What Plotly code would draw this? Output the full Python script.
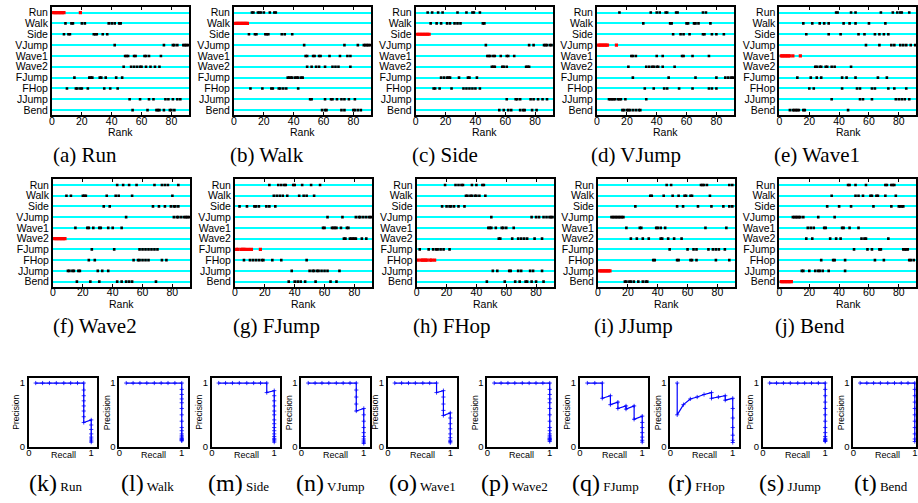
import plotly.graph_objects as go

W, H = 918, 503
ACTIONS = ["Run", "Walk", "Side", "VJump", "Wave1", "Wave2", "FJump", "FHop", "JJump", "Bend"]

# ranks of the retrieved videos, per row (same order as ACTIONS), for each query class
RANK_RUN = [
    [1, 2, 3, 4, 5, 6, 7, 8, 19],
    [9, 13, 14, 20, 22, 38, 40, 42, 45, 46],
    [8, 11, 12, 28, 29, 30, 34, 37],
    [42, 75, 81, 82, 84, 88, 89, 90, 91],
    [49, 50, 51, 55, 56, 62, 63, 65, 73],
    [48, 53, 55, 57, 59, 60, 63, 66, 69, 72],
    [15, 25, 26, 27, 32, 33, 36, 43, 47],
    [10, 16, 17, 19, 20, 24, 35, 39, 44],
    [52, 59, 65, 68, 76, 78, 81, 84, 86],
    [54, 64, 70, 71, 72, 75, 79, 80, 82],
]
RANK_WALK = [
    [12, 13, 16, 17, 18, 20, 24, 27, 28],
    [1, 2, 3, 4, 5, 6, 7, 8, 9],
    [10, 14, 15, 21, 22, 23, 32, 34, 39],
    [47, 74, 83, 87, 88, 89, 90, 91],
    [48, 49, 53, 54, 57, 58, 64, 71, 76, 78],
    [49, 52, 55, 57, 61, 66, 68, 70, 78],
    [36, 37, 38, 39, 41, 42, 43, 45, 46],
    [11, 19, 25, 26, 30, 31, 33, 35, 43],
    [51, 52, 61, 65, 66, 69, 72, 74, 77, 81],
    [59, 61, 62, 72, 74, 80, 81, 83, 85],
]
RANK_SIDE = [
    [8, 11, 15, 18, 28, 34, 38, 39, 43],
    [10, 14, 17, 21, 23, 26, 28, 30, 45, 46],
    [1, 2, 3, 4, 5, 6, 7, 8, 9],
    [47, 76, 79, 86, 87, 88, 90, 91],
    [48, 49, 50, 52, 53, 57, 61, 62, 66],
    [51, 52, 53, 58, 59, 61, 74, 75, 76],
    [17, 19, 21, 22, 23, 29, 35, 36, 41],
    [12, 13, 16, 24, 32, 34, 36, 38, 40, 43],
    [61, 67, 68, 70, 77, 79, 82, 85, 88],
    [56, 59, 62, 64, 70, 72, 73, 78, 81],
]
RANK_VJUMP = [
    [15, 36, 40, 42, 46, 47, 53, 54, 71, 73],
    [31, 49, 50, 60, 61, 65, 66, 68, 76],
    [51, 56, 58, 62, 71, 72, 77, 80, 85],
    [1, 2, 3, 4, 5, 6, 7, 13],
    [23, 24, 26, 40, 44, 57, 58, 64, 75],
    [21, 33, 35, 37, 38, 40, 41, 44, 52],
    [24, 48, 66, 80, 86, 88, 90, 91],
    [32, 38, 45, 47, 55, 64, 75, 77, 80],
    [8, 9, 10, 11, 12, 14, 15, 16, 19, 33],
    [17, 18, 20, 21, 22, 24, 26, 28, 29],
]
RANK_WAVE1 = [
    [38, 39, 48, 51, 68, 76, 79, 81, 82, 87],
    [16, 22, 27, 30, 33, 43, 47, 51, 60, 71],
    [18, 33, 41, 53, 57, 64, 67, 70, 73],
    [58, 67, 75, 77, 81, 83, 85, 88, 91],
    [1, 2, 3, 4, 5, 6, 7, 9, 14],
    [24, 25, 27, 28, 31, 32, 35, 37, 48],
    [12, 21, 25, 28, 42, 45, 51, 66, 72],
    [20, 23, 42, 52, 54, 62, 64, 73, 77, 85],
    [35, 54, 56, 62, 78, 80, 82, 84, 87],
    [7, 9, 10, 11, 12, 13, 16, 17, 46],
]
RANK_WAVE2 = [
    [43, 47, 51, 56, 68, 73, 75, 77, 84],
    [9, 12, 20, 21, 22, 36, 42, 44, 53, 80],
    [34, 38, 67, 71, 75, 79, 81, 82, 84],
    [49, 81, 83, 84, 86, 88, 89, 90, 91],
    [15, 23, 24, 27, 31, 32, 37, 40, 46],
    [1, 2, 3, 4, 5, 6, 7, 8],
    [26, 41, 58, 60, 62, 64, 66, 68, 70],
    [24, 28, 54, 57, 58, 60, 62, 64, 73, 76],
    [10, 11, 13, 14, 17, 18, 30, 33, 37],
    [16, 25, 31, 43, 46, 49, 51, 53, 69],
]
RANK_FJUMP = [
    [23, 29, 31, 33, 34, 39, 40, 45, 51, 57],
    [26, 28, 30, 32, 35, 43, 46, 48, 53],
    [3, 8, 13, 14, 16, 21, 23, 27],
    [62, 72, 81, 83, 84, 86, 88, 90, 91],
    [59, 60, 65, 66, 67, 68, 71, 75, 76],
    [73, 74, 77, 78, 79, 80, 81, 85, 88],
    [1, 2, 4, 5, 6, 7, 9, 11, 17],
    [6, 10, 12, 14, 16, 18, 19, 25, 31, 48],
    [38, 50, 52, 53, 55, 56, 58, 60, 62, 70],
    [36, 40, 42, 44, 47, 54, 64, 68],
]
RANK_FHOP = [
    [19, 26, 28, 30, 31, 37, 40, 44, 45],
    [33, 34, 36, 37, 39, 40, 42, 46],
    [17, 20, 22, 23, 25, 28, 32],
    [50, 77, 80, 82, 85, 87, 89, 90, 91],
    [48, 49, 50, 53, 57, 58, 60, 65],
    [55, 56, 64, 68, 70, 72, 74, 79, 84],
    [2, 8, 11, 13, 14, 16, 18, 22],
    [1, 3, 4, 5, 6, 7, 9, 10, 12],
    [51, 54, 62, 63, 68, 70, 76, 78, 84],
    [47, 59, 66, 69, 73, 74, 77, 80, 85],
]
RANK_JJUMP = [
    [46, 49, 69, 70, 71, 73, 88, 90],
    [35, 36, 44, 50, 54, 58, 59, 62, 63, 75],
    [25, 53, 57, 67, 76, 84, 88, 90],
    [9, 10, 11, 12, 13, 14, 15, 16, 17],
    [19, 28, 29, 39, 40, 42, 45, 72, 86],
    [22, 26, 30, 34, 42, 43, 47, 51, 56],
    [48, 60, 64, 66, 74, 77, 79, 81, 85],
    [37, 38, 53, 54, 62, 63, 66, 79, 88],
    [1, 2, 3, 4, 5, 6, 7, 8],
    [18, 19, 21, 22, 24, 27, 30, 32, 33],
]
RANK_BEND = [
    [46, 47, 51, 58, 71, 72, 75, 76, 77],
    [35, 51, 53, 56, 61, 62, 65, 66, 71, 78],
    [32, 40, 48, 63, 75, 80, 81, 82, 83],
    [9, 10, 11, 12, 13, 14, 16, 26, 37],
    [19, 21, 23, 30, 31, 42, 43, 47, 53],
    [18, 22, 34, 38, 41, 55, 57, 58, 73],
    [50, 59, 62, 67, 68, 83, 84, 85, 86],
    [28, 36, 37, 44, 64, 70, 87, 88, 90],
    [15, 16, 20, 24, 26, 27, 29, 33, 44],
    [1, 2, 3, 4, 5, 6, 7, 8],
]

RANK_PANELS = [
    ("a", "Run", RANK_RUN), ("b", "Walk", RANK_WALK), ("c", "Side", RANK_SIDE),
    ("d", "VJump", RANK_VJUMP), ("e", "Wave1", RANK_WAVE1), ("f", "Wave2", RANK_WAVE2),
    ("g", "FJump", RANK_FJUMP), ("h", "FHop", RANK_FHOP), ("i", "JJump", RANK_JJUMP),
    ("j", "Bend", RANK_BEND),
]

# precision / recall curves
PR_RUN_R = [0.11, 0.22, 0.33, 0.44, 0.56, 0.67, 0.78, 0.88, 0.88, 0.88, 0.88, 0.88, 0.88, 0.88, 0.88,
            1.0, 1.0, 1.0, 1.0, 1.0, 1.0, 1.0, 1.0]
PR_RUN_P = [1, 1, 1, 1, 1, 1, 1, 1, 0.89, 0.8, 0.72, 0.64, 0.56, 0.47, 0.38,
            0.42, 0.34, 0.27, 0.2, 0.15, 0.12, 0.09, 0.07]
PR_WALK_R = [0.11, 0.22, 0.33, 0.44, 0.56, 0.67, 0.78, 0.89, 1.0,
             1.0, 1.0, 1.0, 1.0, 1.0, 1.0, 1.0, 1.0, 1.0, 1.0, 1.0, 1.0, 1.0, 1.0, 1.0, 1.0, 1.0]
PR_WALK_P = [1, 1, 1, 1, 1, 1, 1, 1, 1,
             0.9, 0.82, 0.75, 0.69, 0.6, 0.5, 0.4, 0.3, 0.25, 0.2, 0.17, 0.15, 0.13, 0.12, 0.11, 0.1, 0.09]
PR_SIDE_R = [0.11, 0.22, 0.33, 0.44, 0.56, 0.67, 0.78, 0.88, 0.88, 1.0,
             1.0, 1.0, 1.0, 1.0, 1.0, 1.0, 1.0, 1.0, 1.0, 1.0, 1.0, 1.0, 1.0, 1.0, 1.0]
PR_SIDE_P = [1, 1, 1, 1, 1, 1, 1, 1, 0.85, 0.88,
             0.8, 0.72, 0.64, 0.56, 0.5, 0.42, 0.36, 0.3, 0.25, 0.2, 0.16, 0.13, 0.11, 0.09, 0.07]
PR_VJUMP_R = [0.11, 0.22, 0.33, 0.44, 0.56, 0.67, 0.78, 0.88, 0.88, 0.88, 0.88, 0.88, 1.0,
              1.0, 1.0, 1.0, 1.0, 1.0, 1.0, 1.0, 1.0, 1.0]
PR_VJUMP_P = [1, 1, 1, 1, 1, 1, 1, 1, 0.89, 0.78, 0.67, 0.56, 0.6,
              0.5, 0.4, 0.3, 0.22, 0.16, 0.12, 0.09, 0.07, 0.05]
PR_WAVE1_R = [0.11, 0.22, 0.33, 0.44, 0.56, 0.67, 0.78, 0.78, 0.89, 0.89, 0.89, 0.89, 0.89, 1.0,
              1.0, 1.0, 1.0, 1.0, 1.0, 1.0, 1.0, 1.0]
PR_WAVE1_P = [1, 1, 1, 1, 1, 1, 1, 0.85, 0.88, 0.78, 0.67, 0.57, 0.49, 0.53,
              0.45, 0.36, 0.28, 0.2, 0.14, 0.1, 0.08, 0.06]
PR_WAVE2_R = [0.11, 0.22, 0.33, 0.44, 0.56, 0.67, 0.78, 0.89, 1.0,
              1.0, 1.0, 1.0, 1.0, 1.0, 1.0, 1.0, 1.0, 1.0, 1.0, 1.0, 1.0, 1.0, 1.0, 1.0, 1.0, 1.0]
PR_WAVE2_P = [1, 1, 1, 1, 1, 1, 1, 1, 1,
              0.9, 0.82, 0.75, 0.69, 0.6, 0.5, 0.4, 0.3, 0.25, 0.2, 0.17, 0.15, 0.13, 0.12, 0.11, 0.1, 0.08]
PR_FJUMP_R = [0.12, 0.24, 0.36, 0.36, 0.49, 0.49, 0.61, 0.61, 0.74, 0.74, 0.87, 0.87, 1.0,
              1.0, 1.0, 1.0, 1.0, 1.0, 1.0]
PR_FJUMP_P = [1, 1, 1, 0.76, 0.8, 0.66, 0.7, 0.6, 0.64, 0.59, 0.64, 0.43, 0.48,
              0.38, 0.3, 0.22, 0.15, 0.1, 0.07]
PR_FHOP_R = [0.11, 0.11, 0.21, 0.32, 0.43, 0.54, 0.66, 0.66, 0.77, 0.88, 0.88, 1.0,
             1.0, 1.0, 1.0, 1.0, 1.0, 1.0]
PR_FHOP_P = [1, 0.5, 0.66, 0.75, 0.78, 0.82, 0.85, 0.76, 0.78, 0.8, 0.73, 0.76,
             0.6, 0.45, 0.3, 0.18, 0.1, 0.065]
PR_JJUMP_R = [0.11, 0.22, 0.33, 0.44, 0.56, 0.67, 0.78, 0.89, 1.0,
              1.0, 1.0, 1.0, 1.0, 1.0, 1.0, 1.0, 1.0, 1.0, 1.0, 1.0, 1.0, 1.0, 1.0]
PR_JJUMP_P = [1, 1, 1, 1, 1, 1, 1, 1, 1,
              0.9, 0.8, 0.7, 0.6, 0.5, 0.4, 0.3, 0.22, 0.16, 0.13, 0.11, 0.1, 0.09, 0.08]
PR_BEND_R = [0.11, 0.22, 0.33, 0.44, 0.56, 0.67, 0.78, 0.89, 1.0,
             1.0, 1.0, 1.0, 1.0, 1.0, 1.0, 1.0, 1.0, 1.0, 1.0]
PR_BEND_P = [1, 1, 1, 1, 1, 1, 1, 1, 1,
             0.9, 0.8, 0.7, 0.6, 0.5, 0.4, 0.3, 0.2, 0.12, 0.08]

PR_PANELS = [
    ("k", "Run", PR_RUN_R, PR_RUN_P), ("l", "Walk", PR_WALK_R, PR_WALK_P),
    ("m", "Side", PR_SIDE_R, PR_SIDE_P), ("n", "VJump", PR_VJUMP_R, PR_VJUMP_P),
    ("o", "Wave1", PR_WAVE1_R, PR_WAVE1_P), ("p", "Wave2", PR_WAVE2_R, PR_WAVE2_P),
    ("q", "FJump", PR_FJUMP_R, PR_FJUMP_P), ("r", "FHop", PR_FHOP_R, PR_FHOP_P),
    ("s", "JJump", PR_JJUMP_R, PR_JJUMP_P), ("t", "Bend", PR_BEND_R, PR_BEND_P),
]

# ---------------- layout geometry (pixels) ----------------
SANS = "Liberation Sans, Arial, Helvetica, sans-serif"
SERIF = "Liberation Serif, Times New Roman, serif"
ROW_LEFT = [[49.3, 232.3, 415, 597.3, 780.7], [50.3, 233.3, 416, 598.3, 780.7]]
ROW_TOP = [6, 180.5]
ROW_BOT = [115.5, 289]
RANK_Y = [132.5, 306.5]
CAP_X = [[48, 226, 409, 589, 773], [48, 229, 410, 592, 774]]
CAP_Y = [156, 329]
PX_PER_RANK = 1.5
PANEL_W = 138

PR_LEFT = [26, 117, 210, 300, 387, 487, 580, 671, 764, 855]
PR_TOP, PR_BOT = 381.5, 451
PR_W = 69
PR_CAP_X = [24, 117, 204, 293, 386, 479, 570, 667, 758, 854]
PR_CAP_Y = 488


def fx(px):
    return px / W


def fy(py):
    return 1 - py / H


fig = go.Figure()
layout = dict(width=W, height=H, margin=dict(l=0, r=0, t=0, b=0),
              paper_bgcolor="white", plot_bgcolor="white", showlegend=False)
annotations = []

for i, (letter, name, ranks) in enumerate(RANK_PANELS):
    n = i + 1
    r, c = divmod(i, 5)
    left = ROW_LEFT[r][c]
    right = min(left + PANEL_W, W)
    xmax = (right - left) / PX_PER_RANK
    bx, by, rx, ry = [], [], [], []
    for act, vals in zip(ACTIONS, ranks):
        for v in vals:
            if act == name:
                rx.append(v); ry.append(act)
            else:
                bx.append(v); by.append(act)
    xa = "x" if n == 1 else f"x{n}"
    ya = "y" if n == 1 else f"y{n}"
    fig.add_trace(go.Scatter(x=bx, y=by, mode="markers", xaxis=xa, yaxis=ya,
                             marker=dict(symbol="square", size=2.6, color="black"),
                             hoverinfo="skip"))
    fig.add_trace(go.Scatter(x=rx, y=ry, mode="markers", xaxis=xa, yaxis=ya,
                             marker=dict(symbol="square", size=3.2, color="#ff0000"),
                             hoverinfo="skip"))
    layout["xaxis" if n == 1 else f"xaxis{n}"] = dict(
        domain=[fx(left), fx(right)], anchor=ya, range=[0, xmax],
        tickvals=[0, 20, 40, 60, 80], ticks="inside", ticklen=3, tickwidth=1,
        tickcolor="black", showline=True, linecolor="black", linewidth=2,
        mirror="ticks", showgrid=False, zeroline=False,
        tickfont=dict(family=SANS, size=10.5, color="black"), ticklabelstandoff=-5)
    layout["yaxis" if n == 1 else f"yaxis{n}"] = dict(
        domain=[fy(ROW_BOT[r]), fy(ROW_TOP[r])], anchor=xa, type="category",
        categoryarray=ACTIONS, tickmode="array", tickvals=ACTIONS, ticktext=ACTIONS,
        range=[9.46, -0.52], showline=True, linecolor="black",
        linewidth=2, mirror=True, ticks="", showgrid=True, gridcolor="#00ffff",
        gridwidth=2, zeroline=False, ticklabelstandoff=0,
        tickfont=dict(family=SANS, size=10.5, color="black"))
    annotations.append(dict(text="Rank", x=fx((left + left + PANEL_W) / 2),
                            y=fy(RANK_Y[r]), xref="paper", yref="paper",
                            showarrow=False, xanchor="center", yanchor="middle",
                            font=dict(family=SANS, size=10.5, color="black")))
    annotations.append(dict(text=f"({letter}) {name}", x=fx(CAP_X[r][c]), y=fy(CAP_Y[r]),
                            xref="paper", yref="paper", showarrow=False,
                            xanchor="left", yanchor="middle",
                            font=dict(family=SERIF, size=21, color="black")))

for j, (letter, name, rec, prec) in enumerate(PR_PANELS):
    n = 11 + j
    left = PR_LEFT[j]
    right = min(left + PR_W, W)
    xmax = 1.1 if right - left == PR_W else 1.02
    xa, ya = f"x{n}", f"y{n}"
    fig.add_trace(go.Scatter(x=rec, y=prec, mode="lines+markers", xaxis=xa, yaxis=ya,
                             line=dict(color="#0000ff", width=1.2),
                             marker=dict(symbol="cross-thin", size=3, color="#0000ff",
                                         line=dict(color="#0000ff", width=0.8)),
                             hoverinfo="skip"))
    layout[f"xaxis{n}"] = dict(
        domain=[fx(left), fx(right)], anchor=ya, range=[0, xmax], tickvals=[0, 1],
        ticks="", showline=True, linecolor="black", linewidth=2, mirror=True,
        showgrid=False, zeroline=False, ticklabelstandoff=-4,
        tickfont=dict(family=SANS, size=9.5, color="black"))
    layout[f"yaxis{n}"] = dict(
        domain=[fy(PR_BOT), fy(PR_TOP)], anchor=xa, range=[0, 1.08], tickvals=[0, 1],
        ticks="", showline=True, linecolor="black", linewidth=2, mirror=True,
        showgrid=False, zeroline=False, ticklabelstandoff=0,
        tickfont=dict(family=SANS, size=9.5, color="black"))
    cx = (left + left + PR_W) / 2
    annotations.append(dict(text="Recall", x=fx(cx), y=fy(459), xref="paper", yref="paper",
                            showarrow=False, xanchor="center", yanchor="middle",
                            font=dict(family=SANS, size=9, color="black")))
    annotations.append(dict(text="Precision", x=fx(left - 12.5), y=fy((PR_TOP + PR_BOT) / 2),
                            xref="paper", yref="paper", showarrow=False, textangle=-90,
                            xanchor="center", yanchor="middle",
                            font=dict(family=SANS, size=8.5, color="black")))
    annotations.append(dict(text=f"({letter})<span style='font-size:13px'> {name}</span>",
                            x=fx(PR_CAP_X[j]), y=fy(PR_CAP_Y), xref="paper", yref="paper",
                            showarrow=False, xanchor="left", yanchor="middle",
                            font=dict(family=SERIF, size=24, color="black")))

layout["annotations"] = annotations
fig.update_layout(**layout)
fig.write_html("out.html")
